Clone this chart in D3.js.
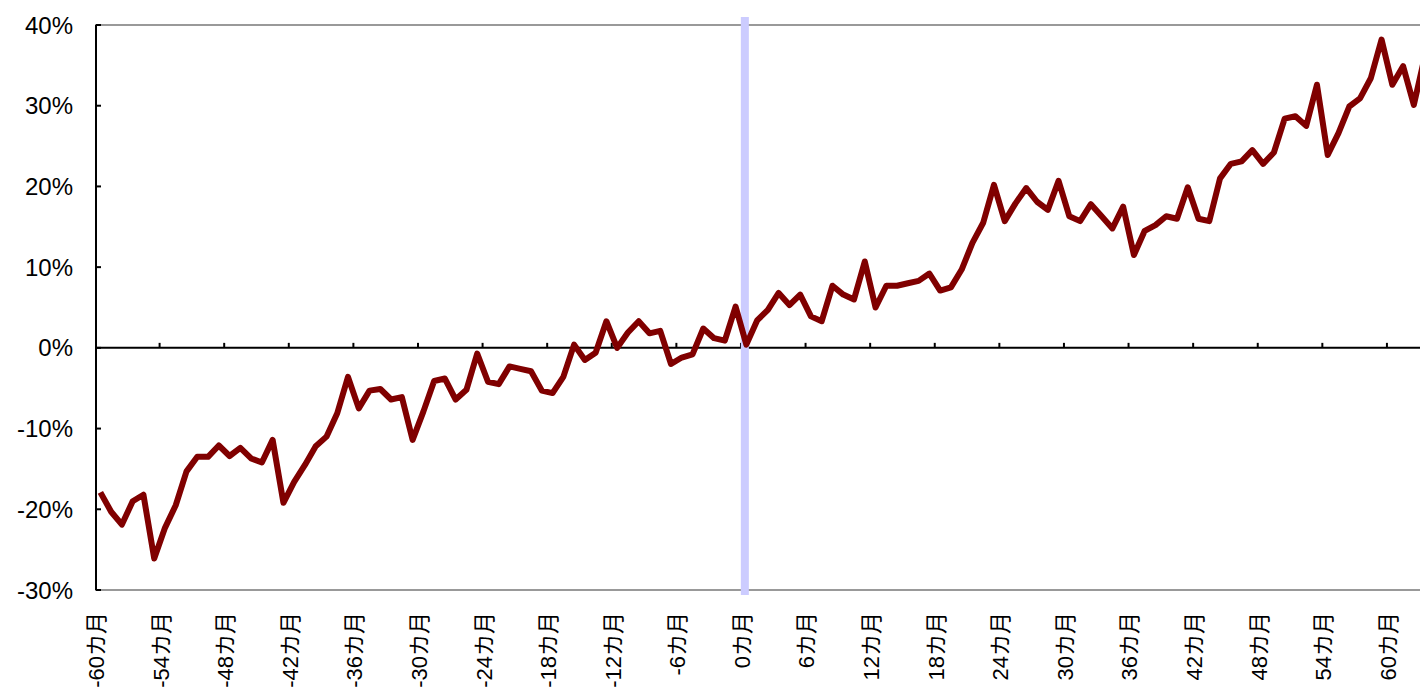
<!DOCTYPE html>
<html>
<head>
<meta charset="utf-8">
<script src="https://cdn.jsdelivr.net/npm/d3@7"></script>
<style>
  body { margin: 0; background: #fff; }
  svg { display: block; }
  text { font-family: "Liberation Sans", Arial, "Noto Sans CJK JP", sans-serif; fill: #000; }
</style>
</head>
<body>
<svg id="chart" width="1420" height="691"></svg>
<script>
// months relative to the event (0カ月)
const months = d3.range(-60, 64)
// cumulative return, %
const values = [
  -17.9, -20.3, -21.9, -19.0, -18.2, -26.1, -22.3, -19.5, -15.3, -13.5,
  -13.5, -12.1, -13.4, -12.4, -13.7, -14.2, -11.4, -19.2, -16.6, -14.5,
  -12.2, -11.0, -8.1, -3.6, -7.5, -5.3, -5.1, -6.4, -6.1, -11.4,
  -7.9, -4.1, -3.8, -6.4, -5.2, -0.7, -4.2, -4.5, -2.3, -2.6,
  -2.9, -5.3, -5.6, -3.6, 0.4, -1.5, -0.6, 3.3, 0.0, 1.9,
  3.3, 1.8, 2.1, -2.0, -1.2, -0.8, 2.4, 1.2, 0.9, 5.1,
  0.4, 3.4, 4.7, 6.8, 5.3, 6.6, 3.9, 3.3, 7.7, 6.6,
  6.0, 10.7, 5.0, 7.7, 7.7, 8.0, 8.3, 9.2, 7.1, 7.5,
  9.7, 13.0, 15.5, 20.2, 15.7, 17.9, 19.8, 18.1, 17.1, 20.7,
  16.3, 15.7, 17.8, 16.3, 14.8, 17.5, 11.5, 14.5, 15.2, 16.3,
  16.0, 19.9, 16.0, 15.7, 21.0, 22.8, 23.1, 24.5, 22.8, 24.2,
  28.4, 28.7, 27.5, 32.6, 23.9, 26.6, 29.9, 30.9, 33.4, 38.2,
  32.6, 34.9, 30.1, 36.0
]
const yTicks = [-30, -20, -10, 0, 10, 20, 30, 40]
const labelMonths = d3.range(-60, 61, 6)
const eventMonth = 0

const svg = d3.select('#chart')
const plotLeft = 95, plotRight = 1430, plotTop = 25, plotBottom = 590

let x = d3.scaleBand().domain(months).range([plotLeft, plotRight])
let y = d3.scaleLinear().domain([-30, 40]).range([plotBottom, plotTop])
let cx = (m) => x(m) + x.bandwidth() / 2

// plot area border (top / bottom)
svg.append('g').selectAll('line')
  .data([40, -30])
  .join('line')
  .attr('x1', plotLeft).attr('x2', 1420)
  .attr('y1', d => y(d)).attr('y2', d => y(d))
  .attr('stroke', '#999').attr('stroke-width', 2)

// y axis
let yAxis = svg.append('g').attr('transform', `translate(${plotLeft + 1},0)`)
yAxis.append('line')
  .attr('y1', y(40)).attr('y2', y(-30))
  .attr('stroke', '#000').attr('stroke-width', 2)
yAxis.selectAll('.ytick')
  .data(yTicks)
  .join('line')
  .attr('class', 'ytick')
  .attr('x1', 0).attr('x2', 5)
  .attr('y1', d => y(d)).attr('y2', d => y(d))
  .attr('stroke', '#000').attr('stroke-width', 2)
yAxis.selectAll('text')
  .data(yTicks)
  .join('text')
  .attr('x', -23)
  .attr('y', d => y(d))
  .attr('dy', '0.36em')
  .attr('text-anchor', 'end')
  .style('font-size', '24px')
  .text(d => d + '%')

// x axis on the 0% line
let xAxis = svg.append('g')
xAxis.append('line')
  .attr('x1', plotLeft).attr('x2', 1420)
  .attr('y1', y(0)).attr('y2', y(0))
  .attr('stroke', '#000').attr('stroke-width', 2)
xAxis.selectAll('.xtick')
  .data(labelMonths.filter(m => m > -60))
  .join('line')
  .attr('class', 'xtick')
  .attr('x1', d => x(d)).attr('x2', d => x(d))
  .attr('y1', y(0)).attr('y2', y(0) - 5)
  .attr('stroke', '#000').attr('stroke-width', 2)

// x labels, rotated
svg.append('g').selectAll('text')
  .data(labelMonths)
  .join('text')
  .attr('transform', d => `translate(${x(d) + 1},612) rotate(-90)`)
  .attr('dy', '0.36em')
  .attr('text-anchor', 'end')
  .style('font-size', '22px')
  .text(d => d + 'カ月')

// event marker
svg.append('line')
  .attr('x1', cx(eventMonth) - 1.5).attr('x2', cx(eventMonth) - 1.5)
  .attr('y1', y(40) - 8).attr('y2', y(-30) + 5)
  .attr('stroke', '#ccccff').attr('stroke-width', 8)

// the series
let line = d3.line()
  .x((d, i) => cx(months[i]))
  .y(d => y(d))
svg.append('path')
  .datum(values)
  .attr('d', line)
  .attr('fill', 'none')
  .attr('stroke', '#800000')
  .attr('stroke-width', 6)
  .attr('stroke-linejoin', 'round')
</script>
</body>
</html>
